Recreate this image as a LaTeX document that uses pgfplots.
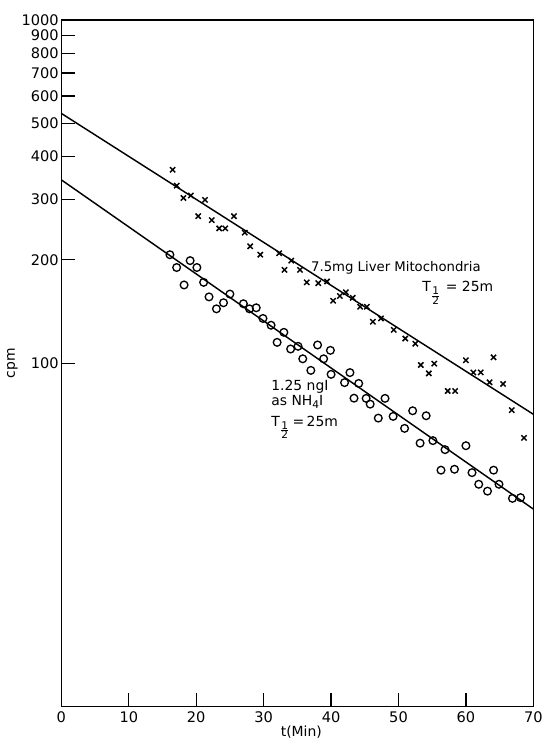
\documentclass[border=0pt]{standalone}
\usepackage{pgfplots}
\pgfplotsset{compat=1.18}
\usepackage{fontspec}
\setmainfont{DejaVu Sans}
\begin{document}
\begin{tikzpicture}
\begin{axis}[
  scale only axis,
  width=356.25pt, height=518.25pt,
  xmin=0, xmax=70, ymin=10, ymax=1000,
  ymode=log,
  xtick={0,10,...,70},
  ytick={100,200,300,400,500,600,700,800,900,1000},
  yticklabels={100,200,300,400,500,600,700,800,900,1000},
  minor tick length=0pt,
  xtick pos=bottom, ytick pos=left,
  tick align=inside,
  major tick length=10pt,
  tick style={line width=0.9pt, black},
  axis line style={line width=1pt},
  /pgf/number format/assume math mode=true,
  ticklabel style={font=\fontsize{11}{12}\selectfont},
  xticklabel style={yshift=-0.5pt},
  yticklabel style={xshift=1.5pt},
  clip=false,
]
\addplot[black, line width=1.1pt] coordinates {(0,534) (70,71)};
\addplot[black, line width=1.1pt] coordinates {(0,342) (70,37.6)};
\addplot[only marks, mark=x, mark size=2.8pt, mark options={line width=1.1pt}] coordinates {
(16.5,366) (17.1,329) (18.1,303) (19.2,308) (20.3,268) (21.3,299) (22.3,261)
(23.4,247) (24.3,247) (25.6,268) (27.2,240) (28.0,219) (29.5,207) (32.3,209)
(33.1,187) (34.1,199) (35.4,187) (36.4,172) (38.1,171) (39.4,173) (40.3,152)
(41.3,157) (42.2,161) (43.2,155) (44.3,146) (45.3,146) (46.2,132) (47.4,135)
(49.3,125) (51.0,118) (52.5,114) (53.3,98.8) (54.5,93.4) (55.3,99.7) (57.3,83)
(58.4,83) (60.0,102) (61.1,94) (62.2,94) (63.5,88) (64.1,104) (65.5,87)
(66.8,73) (68.6,60.6)};
\addplot[only marks, mark=o, mark size=2.9pt, mark options={line width=1pt}] coordinates {
(16.1,207) (17.1,190) (18.2,169) (19.1,199) (20.1,190) (21.1,172) (21.9,156)
(23.0,144) (24.05,150) (25.0,159) (27.0,149) (27.9,144) (28.9,145) (29.9,135)
(31.1,129) (32.0,115) (33.0,123) (34.0,110) (35.1,112) (35.8,103) (37.0,95.3)
(38.0,113) (38.9,103) (39.9,109) (40.0,92.8) (42.0,87.8) (42.8,93.9) (43.4,79.1)
(44.1,87.3) (45.2,79) (45.8,76) (47.0,69.2) (48.0,79) (49.2,70) (50.9,64.6)
(52.1,72.7) (53.2,58.5) (54.1,70.3) (55.1,59.5) (56.3,48.8) (56.9,56) (58.3,49.1)
(60.0,57.5) (60.9,48) (61.9,44.4) (63.2,42.4) (64.1,48.8) (64.9,44.4) (66.9,40.4)
(68.1,40.6)};
\node[anchor=west, inner sep=0pt, font=\fontsize{10}{12}\selectfont] at (axis cs:37.0,190) {7.5mg Liver Mitochondria};
\node[anchor=west, inner sep=0pt, font=\fontsize{10.5}{12}\selectfont] at (axis cs:53.5,160) {T$_{\frac{\mbox{\fontsize{8}{8}\selectfont 1}}{\mbox{\fontsize{8}{8}\selectfont 2}}}$ = 25m};
\node[anchor=west, inner sep=0pt, font=\fontsize{10.5}{12}\selectfont] at (axis cs:31.1,85.5) {1.25 ngI};
\node[anchor=west, inner sep=0pt, font=\fontsize{10.5}{12}\selectfont] at (axis cs:31.1,77.2) {as NH\raisebox{-0.3ex}{\fontsize{8}{8}\selectfont 4}I};
\node[anchor=west, inner sep=0pt, font=\fontsize{10.5}{12}\selectfont] at (axis cs:31.1,65) {T$_{\frac{\mbox{\fontsize{8}{8}\selectfont 1}}{\mbox{\fontsize{8}{8}\selectfont 2}}}$\,=\,25m};
\end{axis}
\node[rotate=90, font=\fontsize{10.5}{12}\selectfont] at ([xshift=-37pt]current axis.west) {cpm};
\node[font=\fontsize{10.5}{12}\selectfont] at ([xshift=3pt,yshift=-19.5pt]current axis.south) {t(Min)};
\path ([shift={(-46.3pt,-24pt)}]current axis.south west) rectangle ([shift={(7.5pt,15pt)}]current axis.north east);
\end{tikzpicture}
\end{document}
